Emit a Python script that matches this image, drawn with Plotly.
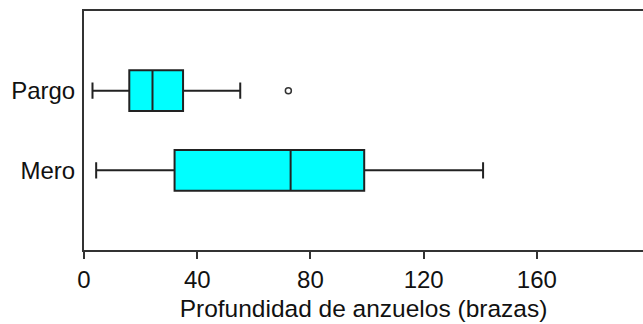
import plotly.graph_objects as go

categories = ["Pargo", "Mero"]
lowerfence = [3, 4.3]
q1 = [16, 32]
median = [24.2, 73]
q3 = [35, 99]
upperfence = [55.2, 141]
outlier_cat = ["Pargo"]
outlier_val = [72.2]

x_ticks = [0, 40, 80, 120, 160]

fig = go.Figure()
fig.add_trace(go.Box(
    y=categories, q1=q1, median=median, q3=q3,
    lowerfence=lowerfence, upperfence=upperfence,
    orientation="h", fillcolor="#00FFFF",
    line=dict(color="#222222", width=2),
    width=0.51, whiskerwidth=0.4, boxpoints=False,
    showlegend=False, hoverinfo="skip",
))
fig.add_trace(go.Scatter(
    x=outlier_val, y=outlier_cat, mode="markers",
    marker=dict(symbol="circle-open", size=6, color="#333333", line=dict(width=1.5)),
    showlegend=False,
))

fig.update_layout(
    width=643, height=324,
    margin=dict(l=84, r=0, t=11, b=74),
    paper_bgcolor="white", plot_bgcolor="white",
    font=dict(family="Liberation Sans, Arial", size=24, color="#111111"),
)
fig.update_xaxes(
    range=[0, 197.5], tickvals=x_ticks, ticks="outside", ticklen=7, tickwidth=1.5,
    tickcolor="#333333", showline=True, linecolor="#333333", linewidth=2, mirror=True,
    showgrid=False, zeroline=False,
    title=dict(text="Profundidad de anzuelos (brazas)", standoff=8, font=dict(size=24.5)),
    tickfont=dict(size=24),
)
fig.update_yaxes(
    type="category", categoryorder="array", categoryarray=["Mero", "Pargo"],
    range=[-1, 2], showline=True, linecolor="#333333", linewidth=2,
    showgrid=False, zeroline=False, ticks="", ticklabelstandoff=2,
    tickfont=dict(size=24),
)
fig.write_html("out.html")
